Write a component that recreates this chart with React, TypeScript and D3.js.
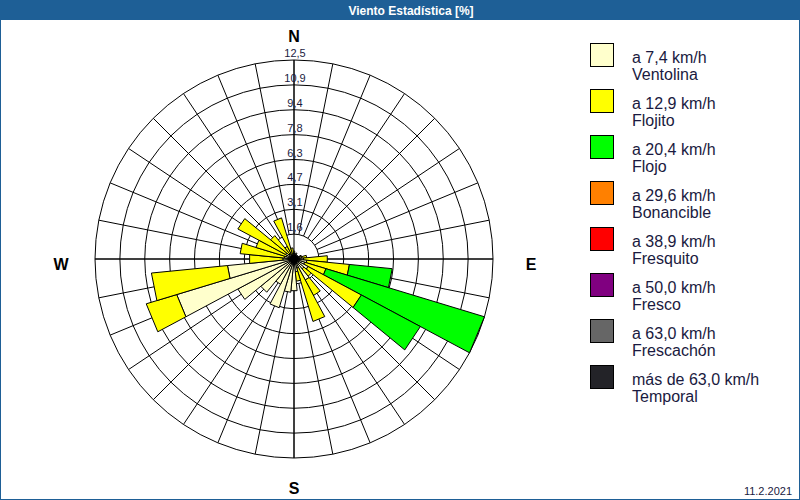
import React from "react";
import * as d3 from "d3";

// 32 compass directions (bearing = index * 11.25°, clockwise from N)
const directions = d3.range(32).map((i) => i * 11.25);

// frequency [%] per speed class, per direction
const ventolina = [0.3, 0.3, 0.4, 0.2, 0.3, 0.3, 0.4, 0.5, 0.6, 0.8, 0.7, 1.0, 0.8, 1.5, 0.6, 0.8,
  2.0, 2.1, 3.2, 1.8, 2.7, 4.0, 7.7, 4.2, 0.7, 0.6, 0.5, 0.6, 0.4, 0.4, 0.3, 0.3];
const flojito = [0.2, 0, 0, 0, 0, 0, 0.1, 0.3, 1.5, 2.7, 1.4, 3.8, 0.6, 1.1, 3.5, 0.6,
  0, 0, 0, 0, 0, 0, 2.0, 4.8, 2.1, 2.8, 2.0, 3.4, 1.5, 0.5, 2.4, 0.4];
const flojo = [0, 0, 0, 0, 0, 0, 0, 0, 0, 2.7, 10.4, 4.2, 0, 0, 0, 0,
  0, 0, 0, 0, 0, 0, 0, 0, 0, 0, 0, 0, 0, 0, 0, 0];

const series = [ventolina, flojito, flojo];

const legendSpeeds = ["a 7,4 km/h", "a 12,9 km/h", "a 20,4 km/h", "a 29,6 km/h", "a 38,9 km/h", "a 50,0 km/h", "a 63,0 km/h", "más de 63,0 km/h"];
const legendNames = ["Ventolina", "Flojito", "Flojo", "Bonancible", "Fresquito", "Fresco", "Frescachón", "Temporal"];
const classColors = ["#FFFFCC", "#FFFF00", "#00FF00", "#FF8000", "#FF0000", "#800080", "#666666", "#232328"];

const ringLabels = ["1,6", "3,1", "4,7", "6,3", "7,8", "9,4", "10,9", "12,5"];
const ringValues = [1.5625, 3.125, 4.6875, 6.25, 7.8125, 9.375, 10.9375, 12.5];
const compass = [
  { t: "N", b: 0 },
  { t: "E", b: 90 },
  { t: "S", b: 180 },
  { t: "W", b: 270 },
];

const title = "Viento Estadística [%]";
const dateText = "11.2.2021";

export default function App() {
  const cx = 294;
  const cy = 259;
  const R = 199;
  const r = d3.scaleLinear().domain([0, 12.5]).range([0, R]);
  const half = 11.25 / 2;
  const pt = (rad: number, deg: number) => {
    const a = (deg * Math.PI) / 180;
    return [cx + rad * Math.sin(a), cy - rad * Math.cos(a)];
  };
  const line = d3.line();
  const textColor = "#1a1a40";
  const font = "'Liberation Sans', Arial, sans-serif";

  const wedges: { d: string; fill: string; key: string }[] = [];
  directions.forEach((b, i) => {
    let acc = 0;
    series.forEach((s, k) => {
      const v = s[i];
      if (v <= 0) return;
      const r0 = r(acc);
      const r1 = r(acc + v);
      acc += v;
      const pts = [pt(r0, b - half), pt(r1, b - half), pt(r1, b + half), pt(r0, b + half)] as [number, number][];
      wedges.push({ d: line(pts) + "Z", fill: classColors[k], key: `${i}-${k}` });
    });
  });

  const compassPos: Record<string, [number, number]> = {
    N: [cx, 42],
    S: [cx, 494],
    W: [61, 270],
    E: [531, 270],
  };

  return (
    <svg width={800} height={500} style={{ position: "fixed", left: 0, top: 0, background: "#fff" }}>
      <rect x={0} y={0} width={800} height={500} fill="#fff" />
      <rect x={0} y={0} width={800} height={20} fill="#1e5f96" />
      <text x={411} y={14.5} textAnchor="middle" fill="#fff" fontFamily={font} fontWeight="bold" fontSize={12}>
        {title}
      </text>
      <rect x={0.5} y={0.5} width={799} height={499} fill="none" stroke="#1e5f96" />

      {/* grid */}
      <g stroke="#000" strokeWidth={1} fill="none">
        {ringValues.map((v) => (
          <circle key={v} cx={cx} cy={cy} r={r(v)} />
        ))}
        {directions.map((b) => {
          const p0 = pt(r(ringValues[0]), b);
          const p1 = pt(R, b);
          return <line key={b} x1={p0[0]} y1={p0[1]} x2={p1[0]} y2={p1[1]} />;
        })}
        <line x1={cx - R} y1={cy} x2={cx + R} y2={cy} />
        <line x1={cx} y1={cy - R} x2={cx} y2={cy + R} />
      </g>

      {/* bars */}
      <g stroke="#000" strokeWidth={1} strokeLinejoin="miter">
        {wedges.map((w) => (
          <path key={w.key} d={w.d} fill={w.fill} />
        ))}
      </g>
      <circle cx={cx} cy={cy} r={4.5} fill="#000" />

      {/* ring labels */}
      {ringValues.map((v, i) => (
        <text key={v} x={cx + 1} y={cy - r(v) - 3} textAnchor="middle" fontFamily={font} fontSize={11} fill={textColor}>
          {ringLabels[i]}
        </text>
      ))}

      {/* compass labels */}
      {compass.map((c) => (
        <text key={c.t} x={compassPos[c.t][0]} y={compassPos[c.t][1]} textAnchor="middle" fontFamily={font} fontWeight="bold" fontSize={16} fill="#000">
          {c.t}
        </text>
      ))}

      {/* legend */}
      {legendSpeeds.map((s, i) => (
        <g key={s} transform={`translate(0, ${i * 46})`}>
          <rect x={590.5} y={43.5} width={23} height={23} fill={classColors[i]} stroke="#000" />
          <text x={632} y={63} fontFamily={font} fontSize={16} fill={textColor}>{s}</text>
          <text x={632} y={80} fontFamily={font} fontSize={16} fill={textColor}>{legendNames[i]}</text>
        </g>
      ))}

      <text x={792} y={495} textAnchor="end" fontFamily={font} fontSize={11} fill={textColor}>{dateText}</text>
    </svg>
  );
}
